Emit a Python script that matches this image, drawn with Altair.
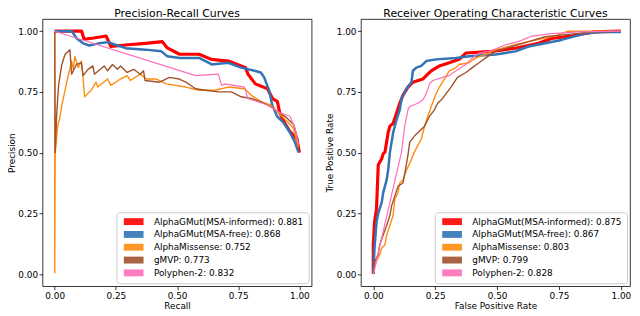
import altair as alt
import pandas as pd

FONT = "DejaVu Sans"

# ---------------- series meta ----------------
names = ["AlphaGMut(MSA-informed)", "AlphaGMut(MSA-free)", "AlphaMissense", "gMVP", "Polyphen-2"]
colors = ["#ff0000", "#3274b5", "#ff8c10", "#a0522d", "#ff6eb8"]
line_widths = [3.2, 2.5, 1.4, 1.4, 1.2]
pr_auc = ["0.881", "0.868", "0.752", "0.773", "0.832"]
roc_auc = ["0.875", "0.867", "0.803", "0.799", "0.828"]
tick_values = [0, 0.25, 0.5, 0.75, 1.0]

# ---------------- Precision-Recall data ----------------
pr_rec_informed = [0.0, 0.11, 0.12, 0.16, 0.21, 0.23, 0.30, 0.37, 0.44, 0.46, 0.51, 0.59, 0.64, 0.71,
                   0.78, 0.79, 0.82, 0.87, 0.89, 0.91, 0.92, 0.94, 0.96, 0.99, 1.0]
pr_prec_informed = [1.0, 1.0, 0.967, 0.972, 0.98, 0.937, 0.944, 0.95, 0.957, 0.931, 0.905, 0.905, 0.884,
                    0.877, 0.85, 0.823, 0.783, 0.763, 0.723, 0.71, 0.663, 0.622, 0.589, 0.556, 0.50]

pr_rec_free = [0.0, 0.07, 0.09, 0.116, 0.142, 0.18, 0.22, 0.249, 0.29, 0.37, 0.436, 0.46, 0.51, 0.59,
               0.642, 0.709, 0.762, 0.816, 0.842, 0.856, 0.876, 0.889, 0.909, 0.936, 0.962, 0.982, 0.996]
pr_prec_free = [1.0, 1.0, 0.97, 0.95, 0.941, 0.95, 0.955, 0.944, 0.93, 0.924, 0.917, 0.897, 0.89, 0.89,
                0.863, 0.87, 0.85, 0.837, 0.83, 0.81, 0.757, 0.696, 0.649, 0.622, 0.582, 0.542, 0.502]

pr_rec_am = [0.0, 0.0, 0.002, 0.012, 0.02, 0.03, 0.049, 0.069, 0.076, 0.082, 0.096, 0.109, 0.116, 0.122,
             0.149, 0.169, 0.176, 0.216, 0.229, 0.269, 0.296, 0.309, 0.349, 0.376, 0.416, 0.456, 0.536,
             0.589, 0.656, 0.709, 0.776, 0.802, 0.842, 0.882, 0.922, 0.949, 0.976, 0.996]
pr_prec_am = [1.0, 0.005, 0.50, 0.61, 0.64, 0.70, 0.79, 0.877, 0.843, 0.897, 0.85, 0.877, 0.803, 0.73,
              0.757, 0.79, 0.77, 0.803, 0.777, 0.803, 0.817, 0.797, 0.823, 0.803, 0.803, 0.783, 0.77,
              0.757, 0.757, 0.77, 0.763, 0.737, 0.71, 0.696, 0.656, 0.629, 0.60, 0.522]

pr_rec_gmvp = [0.0, 0.002, 0.008, 0.016, 0.029, 0.042, 0.062, 0.069, 0.089, 0.109, 0.116, 0.136, 0.156,
               0.162, 0.202, 0.216, 0.236, 0.256, 0.269, 0.296, 0.323, 0.349, 0.363, 0.369, 0.429, 0.469,
               0.509, 0.536, 0.576, 0.616, 0.669, 0.722, 0.762, 0.802, 0.842, 0.882, 0.922, 0.949, 0.976, 0.996]
pr_prec_gmvp = [1.0, 0.50, 0.66, 0.78, 0.863, 0.904, 0.924, 0.823, 0.863, 0.87, 0.817, 0.843, 0.857,
                0.823, 0.857, 0.837, 0.863, 0.843, 0.857, 0.83, 0.843, 0.823, 0.837, 0.797, 0.79, 0.81,
                0.803, 0.79, 0.763, 0.757, 0.75, 0.75, 0.73, 0.723, 0.71, 0.689, 0.663, 0.643, 0.616, 0.549]

pr_rec_pp2 = [0.0, 0.576, 0.669, 0.682, 0.696, 0.776, 0.789, 0.829, 0.869, 0.922, 0.962, 0.982, 0.996]
pr_prec_pp2 = [1.0, 0.817, 0.823, 0.777, 0.783, 0.77, 0.723, 0.71, 0.696, 0.663, 0.65, 0.60, 0.535]

# ---------------- ROC data ----------------
roc_fpr_informed = [0.0, 0.0, 0.005, 0.013, 0.02, 0.026, 0.034, 0.04, 0.047, 0.06, 0.067, 0.08, 0.094,
                    0.107, 0.12, 0.14, 0.16, 0.20, 0.22, 0.234, 0.267, 0.307, 0.347, 0.374, 0.48, 0.573,
                    0.667, 0.72, 0.80, 0.893, 1.0]
roc_tpr_informed = [0.0, 0.12, 0.214, 0.268, 0.449, 0.46, 0.475, 0.496, 0.502, 0.582, 0.609, 0.62, 0.663,
                    0.703, 0.737, 0.77, 0.79, 0.803, 0.823, 0.837, 0.857, 0.87, 0.884, 0.91, 0.917, 0.93,
                    0.95, 0.97, 0.98, 0.997, 1.0]

roc_fpr_free = [0.0, 0.005, 0.013, 0.02, 0.034, 0.04, 0.054, 0.06, 0.067, 0.08, 0.094, 0.107, 0.114,
                0.134, 0.154, 0.16, 0.174, 0.194, 0.214, 0.254, 0.334, 0.387, 0.494, 0.574, 0.627, 0.694,
                0.76, 0.854, 0.92, 1.0]
roc_tpr_free = [0.0, 0.107, 0.214, 0.25, 0.295, 0.335, 0.388, 0.428, 0.50, 0.582, 0.636, 0.676, 0.723,
                0.763, 0.79, 0.837, 0.85, 0.857, 0.877, 0.884, 0.89, 0.897, 0.904, 0.917, 0.937, 0.95,
                0.964, 0.99, 0.997, 0.997]

roc_fpr_am = [0.0, 0.013, 0.026, 0.034, 0.047, 0.054, 0.067, 0.08, 0.087, 0.10, 0.107, 0.12, 0.134, 0.147,
              0.165, 0.18, 0.194, 0.207, 0.22, 0.234, 0.254, 0.267, 0.287, 0.307, 0.334, 0.347, 0.387,
              0.414, 0.454, 0.494, 0.574, 0.627, 0.733, 0.787, 1.0]
roc_tpr_am = [0.0, 0.054, 0.08, 0.107, 0.12, 0.16, 0.20, 0.241, 0.308, 0.335, 0.375, 0.388, 0.428, 0.455,
              0.50, 0.53, 0.556, 0.609, 0.649, 0.69, 0.743, 0.77, 0.803, 0.837, 0.85, 0.863, 0.87,
              0.89, 0.904, 0.924, 0.944, 0.957, 0.98, 1.0, 1.0]

roc_fpr_gmvp = [0.0, 0.006, 0.02, 0.026, 0.04, 0.054, 0.067, 0.074, 0.087, 0.10, 0.12, 0.13, 0.14, 0.147,
                0.167, 0.187, 0.207, 0.227, 0.247, 0.26, 0.28, 0.294, 0.314, 0.34, 0.374, 0.40, 0.427,
                0.454, 0.494, 0.56, 0.627, 0.694, 0.787, 0.893, 1.0]
roc_tpr_gmvp = [0.0, 0.05, 0.083, 0.121, 0.161, 0.20, 0.241, 0.281, 0.321, 0.362, 0.375, 0.43, 0.49, 0.542,
                0.569, 0.589, 0.609, 0.649, 0.676, 0.703, 0.723, 0.743, 0.77, 0.81, 0.83, 0.85, 0.87,
                0.89, 0.917, 0.937, 0.957, 0.977, 0.987, 0.997, 1.0]

roc_fpr_pp2 = [0.0, 0.114, 0.127, 0.14, 0.147, 0.18, 0.2, 0.214, 0.227, 0.24, 0.28, 0.307, 0.334, 0.374,
               0.40, 0.427, 0.467, 0.50, 0.534, 0.587, 0.64, 0.72, 0.827, 1.0]
roc_tpr_pp2 = [0.0, 0.502, 0.609, 0.676, 0.69, 0.703, 0.717, 0.743, 0.783, 0.797, 0.81, 0.817, 0.837,
               0.863, 0.89, 0.91, 0.917, 0.93, 0.944, 0.957, 0.98, 0.99, 0.997, 1.0]


def build_df(xs_list, ys_list, labels):
    rows = []
    for k, (xs, ys) in enumerate(zip(xs_list, ys_list)):
        for i, (x, y) in enumerate(zip(xs, ys)):
            rows.append({"x": x, "y": y, "label": labels[k], "series": k, "i": i})
    return pd.DataFrame(rows)


pr_labels = [f"{n}: {a}" for n, a in zip(names, pr_auc)]
roc_labels = [f"{n}: {a}" for n, a in zip(names, roc_auc)]

pr_df = build_df([pr_rec_informed, pr_rec_free, pr_rec_am, pr_rec_gmvp, pr_rec_pp2],
                 [pr_prec_informed, pr_prec_free, pr_prec_am, pr_prec_gmvp, pr_prec_pp2], pr_labels)
roc_df = build_df([roc_fpr_informed, roc_fpr_free, roc_fpr_am, roc_fpr_gmvp, roc_fpr_pp2],
                  [roc_tpr_informed, roc_tpr_free, roc_tpr_am, roc_tpr_gmvp, roc_tpr_pp2], roc_labels)


def panel(df, labels, title, xtitle, ytitle, xdomain, w, h):
    xscale = alt.Scale(domain=xdomain, nice=False, zero=False)
    yscale = alt.Scale(domain=[-0.05, 1.05], nice=False, zero=False)
    cscale = alt.Scale(domain=labels, range=colors)
    x_enc = alt.X("x:Q", scale=xscale, axis=alt.Axis(title=xtitle, values=tick_values, format=".2f"))
    y_enc = alt.Y("y:Q", scale=yscale, axis=alt.Axis(title=ytitle, values=tick_values, format=".2f"))
    legend = alt.Legend(
        title=None, orient="bottom-right", offset=3,
        symbolType="M-1,-1.75H9V1.75H-1Z", symbolSize=16, symbolOpacity=0.9, symbolStrokeWidth=0,
        labelOffset=24, rowPadding=3, padding=5,
        fillColor="rgba(255,255,255,0.85)", strokeColor="#cccccc", cornerRadius=3,
        labelFont=FONT, labelFontSize=9, labelColor="black", labelLimit=300,
    )
    # legend carrier: filled symbols (no rows drawn), gives the patch-style legend
    legend_layer = (
        alt.Chart(df)
        .transform_filter("datum.i < 0")
        .mark_point(filled=True, opacity=0.9)
        .encode(x=x_enc, y=y_enc, color=alt.Color("label:N", scale=cscale, legend=legend))
    )
    lines = (
        alt.Chart(df)
        .mark_line(strokeJoin="round")
        .encode(
            x=x_enc, y=y_enc,
            color=alt.Color("label:N", scale=cscale, legend=None),
            strokeWidth=alt.StrokeWidth("series:O",
                                        scale=alt.Scale(type="ordinal", domain=list(range(len(labels))),
                                                        range=line_widths),
                                        legend=None),
            order=alt.Order("i:Q"),
        )
    )
    return alt.layer(legend_layer, lines).properties(
        width=w, height=h,
        title=alt.TitleParams(title, font=FONT, fontSize=11, fontWeight="normal", offset=0, color="black"),
    )


left = panel(pr_df, pr_labels, "Precision-Recall Curves", "Recall", "Precision", [-0.05, 1.05], 273, 271)
right = panel(roc_df, roc_labels, "Receiver Operating Characteristic Curves",
              "False Positive Rate", "True Positive Rate", [-0.05, 1.037], 273, 271)

chart = (
    alt.hconcat(left, right, spacing=13)
    .resolve_scale(color="independent", strokeWidth="independent")
    .properties(padding={"left": -1, "top": -3, "right": 0, "bottom": 0})
    .configure_view(stroke="black", strokeWidth=0.8)
    .configure_axis(
        grid=False, domain=False,
        labelFont=FONT, labelFontSize=9, labelColor="black", labelPadding=1.5,
        titleFont=FONT, titleFontSize=9, titleFontWeight="normal", titleColor="black", titlePadding=2,
        tickColor="black", tickSize=3.5, tickWidth=0.8,
    )
    .configure_axisX(labelPadding=1.5, titlePadding=2)
    .configure_axisY(titlePadding=1.5, labelPadding=1.5)
)

chart.save("out.html", embed_options={"renderer": "svg", "actions": False})
